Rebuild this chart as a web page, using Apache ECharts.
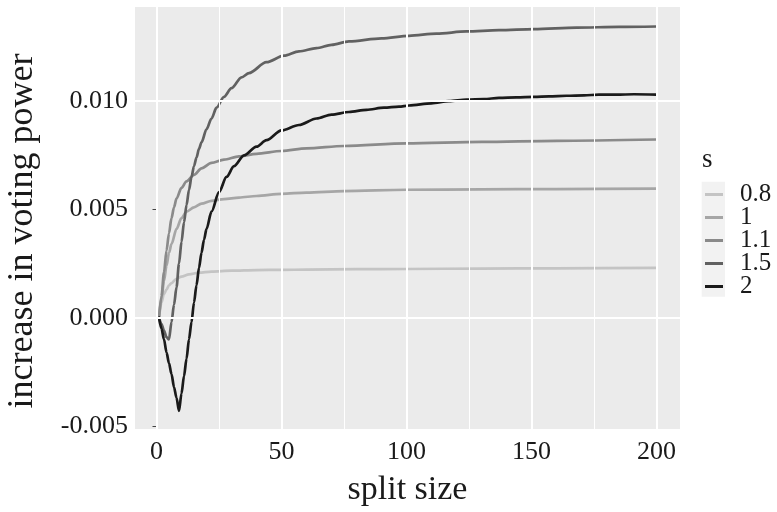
<!DOCTYPE html>
<html><head><meta charset="utf-8">
<script src="https://cdn.jsdelivr.net/npm/echarts@6/dist/echarts.min.js"></script>
<style>html,body{margin:0;padding:0;background:#fff}#c{width:777px;height:512px}</style>
</head><body><div id="c"></div>
<script>
const seriesNames = ['0.8', '1', '1.1', '1.5', '2'];
const seriesColors = ['#C4C4C4', '#A6A6A6', '#8A8A8A', '#616161', '#1A1A1A'];

const x08 = [1,2,3,4,5,6,8,10,13,17,22,30,40,50,60,80,100,130,160,200];
const v08 = [0,0.0007,0.0011,0.0013,0.0015,0.0016,0.0018,0.0019,0.0020,0.00208,0.00213,0.00217,0.0022,0.00221,0.00222,0.00224,0.00225,0.00227,0.00228,0.0023];

const x10 = [1,2,3,4,5,6,8,10,12,15,18,22,27,33,40,50,60,75,100,130,160,200];
const v10 = [0,0.0009,0.0017,0.0024,0.0030,0.0034,0.0041,0.0046,0.0049,0.0051,0.00527,0.0054,0.00548,0.00555,0.00562,0.00572,0.00578,0.00585,0.00591,0.00593,0.00594,0.00596];

const x11 = [1,2,3,4,5,6,7,8,10,12,15,18,22,27,33,40,50,60,75,100,130,160,200];
const v11 = [0,0.0010,0.0021,0.0031,0.0039,0.0046,0.0051,0.0055,0.0060,0.0063,0.0066,0.0069,0.00715,0.0073,0.00745,0.00757,0.0077,0.00782,0.00793,0.00805,0.00812,0.00817,0.00823];

const x15 = [1,2,3,4,5,6,7,8,9,10,11,12,13,14,15,16,17,18,20,22,24,27,30,34,37,44,51,57,64,70,77,90,101,112,124,137,151,168,185,200];
const v15 = [0,-0.0003,-0.0006,-0.0009,-0.0010,-0.0002,0.0006,0.0014,0.0025,0.0035,0.0044,0.0052,0.0059,0.0065,0.0070,0.0074,0.0078,0.0081,0.0087,0.0092,0.0097,0.0102,0.0106,0.0111,0.0113,0.0118,0.0121,0.0123,0.01245,0.0126,0.01276,0.0129,0.01302,0.01312,0.01322,0.01328,0.01333,0.0134,0.01343,0.01345];

const x20 = [1,2,3,4,5,6,7,8,9,10,11,12,13,14,15,16,17,18,19,20,22,25,28,31,35,40,44,50,57,64,70,77,84,91,97,101,110,117,124,131,137,144,151,157,164,171,177,184,191,200];
const v20 = [0,-0.0005,-0.0010,-0.0016,-0.0021,-0.0026,-0.0032,-0.0037,-0.0043,-0.0035,-0.0027,-0.0019,-0.0010,-0.0002,0.0007,0.0015,0.0023,0.0030,0.0036,0.0041,0.0049,0.0058,0.0065,0.0070,0.0075,0.0079,0.0082,0.00865,0.0089,0.0092,0.00938,0.0095,0.0096,0.0097,0.00975,0.0098,0.0099,0.0100,0.01007,0.0101,0.01015,0.01018,0.0102,0.01022,0.01025,0.01027,0.0103,0.0103,0.01032,0.0103];

const xTicks = [0, 50, 100, 150, 200];
const xMinor = [25, 75, 125, 175];
const yTicks = [-0.005, 0, 0.005, 0.010];
const yMinor = [-0.0025, 0.0025, 0.0075, 0.0125];

const allX = [x08, x10, x11, x15, x20];
const allV = [v08, v10, v11, v15, v20];

const FONT = '"Liberation Serif", "Times New Roman", serif';
const TXT = '#1a1a1a';

const chart = echarts.init(document.getElementById('c'), null, {renderer: 'canvas'});

const dataSeries = seriesNames.map((n, k) => ({
  name: n,
  type: 'line',
  data: allX[k].map((x, i) => [x, allV[k][i]]),
  showSymbol: false,
  symbol: 'none',
  smooth: 0.3,
  smoothMonotone: 'x',
  z: 3,
  itemStyle: {color: seriesColors[k]},
  lineStyle: {color: seriesColors[k], width: 2.7, cap: 'round', join: 'round'}
}));

const gridSeries = {
  name: '_grid',
  type: 'line',
  data: [],
  z: 1,
  silent: true,
  markLine: {
    silent: true,
    symbol: 'none',
    animation: false,
    label: {show: false},
    emphasis: {disabled: true},
    lineStyle: {color: '#ffffff', type: 'solid', width: 2},
    data: [
      ...xMinor.map(v => ({xAxis: v, lineStyle: {width: 1, color: '#fff', type: 'solid'}})),
      ...yMinor.map(v => ({yAxis: v, lineStyle: {width: 1, color: '#fff', type: 'solid'}})),
      ...xTicks.map(v => ({xAxis: v, lineStyle: {width: 2, color: '#fff', type: 'solid'}})),
      ...yTicks.map(v => ({yAxis: v, lineStyle: {width: 2, color: '#fff', type: 'solid'}}))
    ]
  }
};

const option = {
  animation: false,
  backgroundColor: '#ffffff',
  grid: {left: 135, right: 97, top: 7, bottom: 82, show: true, backgroundColor: '#EBEBEB', borderWidth: 0},
  xAxis: {
    type: 'value', min: -8.6, max: 209.4,
    axisLine: {show: false},
    splitLine: {show: false},
    axisTick: {show: true, length: 4, customValues: xTicks, lineStyle: {color: '#444', width: 1}},
    axisLabel: {customValues: xTicks, margin: 10, fontFamily: FONT, fontSize: 26, color: TXT},
    name: 'split size', nameLocation: 'middle', nameGap: 44,
    nameTextStyle: {fontFamily: FONT, fontSize: 34, color: TXT}
  },
  yAxis: {
    type: 'value', min: -0.00514, max: 0.01435,
    axisLine: {show: false},
    splitLine: {show: false},
    axisTick: {show: true, length: 4, customValues: yTicks, lineStyle: {color: '#444', width: 1}},
    axisLabel: {customValues: yTicks, margin: 7, fontFamily: FONT, fontSize: 26, color: TXT,
      formatter: v => Number(v).toFixed(3)}
  },
  legend: {
    orient: 'vertical', left: 705, top: 182, padding: 0, itemWidth: 18, itemHeight: 3, itemGap: -2,
    icon: 'rect', selectedMode: false, data: seriesNames,
    textStyle: {fontFamily: FONT, fontSize: 25, color: TXT, lineHeight: 23, padding: [0, 0, 0, 12]}
  },
  graphic: [
    {type: 'rect', z: -1, shape: {x: 701.7, y: 181.7, width: 23.3, height: 115}, style: {fill: '#F2F2F2'}},
    {type: 'text', x: 702, y: 160, style: {text: 's', font: '27px ' + FONT, fill: TXT, align: 'left', verticalAlign: 'middle'}},
    {type: 'text', x: 23, y: 231, rotation: Math.PI / 2,
      style: {text: 'increase in voting power', font: '36px ' + FONT, fill: TXT, align: 'center', verticalAlign: 'middle'}}
  ],
  series: [gridSeries, ...dataSeries]
};
chart.setOption(option);
</script>
</body></html>
